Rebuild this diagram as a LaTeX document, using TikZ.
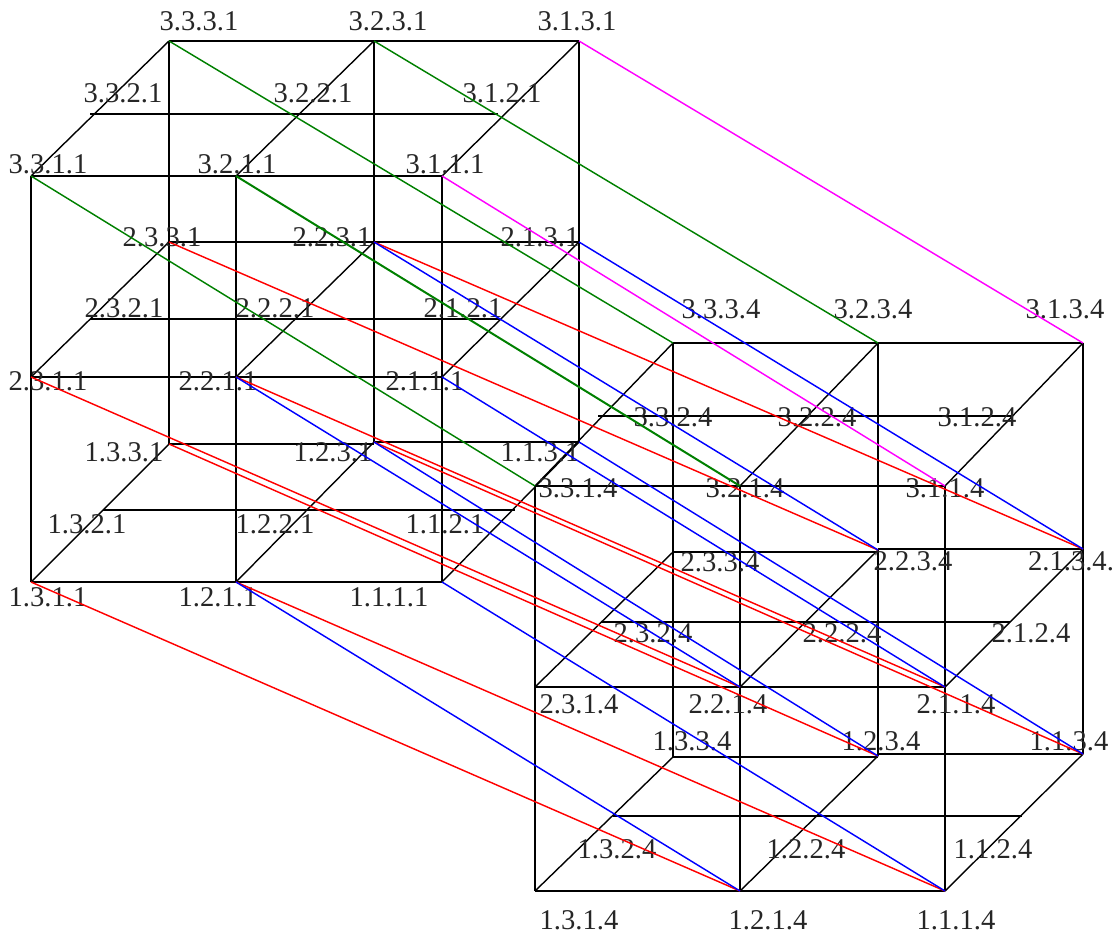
\documentclass[tikz,border=0pt]{standalone}
\usepackage{fontspec}
\setmainfont{Liberation Serif}
\definecolor{linkmagenta}{RGB}{255,0,255}
\definecolor{linkgreen}{RGB}{0,128,0}
\definecolor{linkred}{RGB}{255,0,0}
\definecolor{linkblue}{RGB}{0,0,255}

\begin{document}
\begin{tikzpicture}[
      x=1pt,y=-1pt,
      tag/.style={inner sep=0pt,text=black!85,font=\fontsize{28.6}{30}\selectfont},
      wire/.style={draw=black,line width=1.4pt},
      link/.style={line width=1.45pt}
    ]
      \useasboundingbox (0,0) rectangle (1115,937);
      % corners of the front and back faces
      \foreach \dep/\cube/\xa/\xb/\xc/\ya/\yb/\yc in {1/1/31/236/442/176/377/582,3/1/169/374/579/41/242/442,1/4/535/740/945/486/687/891,3/4/673/878/1083/343/549/754}
        \foreach \lev/\y in {3/\ya,2/\yb,1/\yc}
          \foreach \col/\x in {3/\xa,2/\xb,1/\xc}
            \coordinate (v\lev\col\dep\cube) at (\x,\y);
      \coordinate (v1331) at (169,444);
      \coordinate (v2334) at (673,552);
      \coordinate (v1334) at (673,757);
      \coordinate (v2234) at (878,550);
      \coordinate (v1234) at (878,756);
      \coordinate (vbrk) at (878,543);
      % ends of the middle lines
      \foreach \nm/\x/\y in {3321/90/114,3121/498/114,2321/90/319,2121/500/319,1321/103/510,1121/515/510,3324/598/416,3124/1012/416,2324/601/622,2124/1010/622,1324/613/816,1124/1022/816}
        \coordinate (v\nm) at (\x,\y);
      % grid
      \foreach \cube in {1,4}
        \foreach \lev in {3,2,1} {
          \foreach \dep in {1,3}
            \draw[wire] (v\lev3\dep\cube) -- (v\lev3\dep\cube -| v\lev2\dep\cube)
              (v\lev1\dep\cube -| v\lev2\dep\cube) -- (v\lev1\dep\cube);
          \draw[wire] (v\lev32\cube) -- (v\lev12\cube);
          \foreach \col in {3,2,1}
            \draw[wire] (v\lev\col1\cube) -- (v\lev\col3\cube);
        }
      \foreach \s/\e in {3311/1311,3211/1211,3111/1111,3331/1331,3231/1231,3131/1131,3314/1314,3214/1214,3114/1114,3334/1334,3234/brk,2234/1234,3134/1134}
        \draw[wire] (v\s) -- (v\e);
      % labels
      \foreach \a/\b/\c/\d/\x/\y in {3/3/3/1/199/21,3/2/3/1/388/21,3/1/3/1/577/21,3/3/2/1/123/93,3/2/2/1/313/93,3/1/2/1/502/93,3/3/1/1/48/164,3/2/1/1/237/164,3/1/1/1/445/164,2/3/3/1/162/237,2/2/3/1/332/237,2/1/3/1/540/237,2/3/2/1/124/308,2/2/2/1/275/308,2/1/2/1/463/308,2/3/1/1/48/381,2/2/1/1/218/381,2/1/1/1/425/381,1/3/3/1/124/452,1/2/3/1/333/452,1/1/3/1/540/452,1/3/2/1/87/524,1/2/2/1/275/524,1/1/2/1/445/524,1/3/1/1/48/597,1/2/1/1/218/597,1/1/1/1/389/597,3/3/3/4/721/309,3/2/3/4/873/309,3/1/3/4/1065/309,3/3/2/4/673/417,3/2/2/4/817/417,3/1/2/4/977/417,3/3/1/4/578/488,3/2/1/4/745/488,3/1/1/4/945/488,2/3/3/4/720/562,2/2/3/4/913/561,2/3/2/4/653/633,2/2/2/4/842/633,2/1/2/4/1031/633,2/3/1/4/579/704,2/2/1/4/728/704,2/1/1/4/956/704,1/3/3/4/692/741,1/2/3/4/881/741,1/1/3/4/1069/741,1/3/2/4/617/849,1/2/2/4/806/849,1/1/2/4/993/849,1/3/1/4/579/920,1/2/1/4/768/920,1/1/1/4/956/920}
        \node[tag] (t\a\b\c\d) at (\x,\y) {\a.\b.\c.\d};
      \node[tag] (t2134) at (1071,561) {2.1.3.4.};
      % links between the cubes
      \foreach \s/\e in {3131/3134,3111/3114}
        \draw[link,linkmagenta] (v\s) -- (v\e);
      \foreach \s/\e in {3331/3334,3231/3234,3311/3314}
        \draw[link,linkgreen] (v\s) -- (v\e);
      \draw[link,linkgreen,line width=2pt] (v3211) -- (v3214);
      \foreach \s/\e in {2331/2234,2231/2134,2311/2214,2211/2114,1331/1234,1231/1134,1311/1214,1211/1114}
        \draw[link,linkred] (v\s) -- (v\e);
      \foreach \s/\e in {2231/2234,2131/2134,2211/2214,2111/2114,1231/1234,1131/1134,1211/1214,1111/1114}
        \draw[link,linkblue] (v\s) -- (v\e);
    \end{tikzpicture}
\end{document}
